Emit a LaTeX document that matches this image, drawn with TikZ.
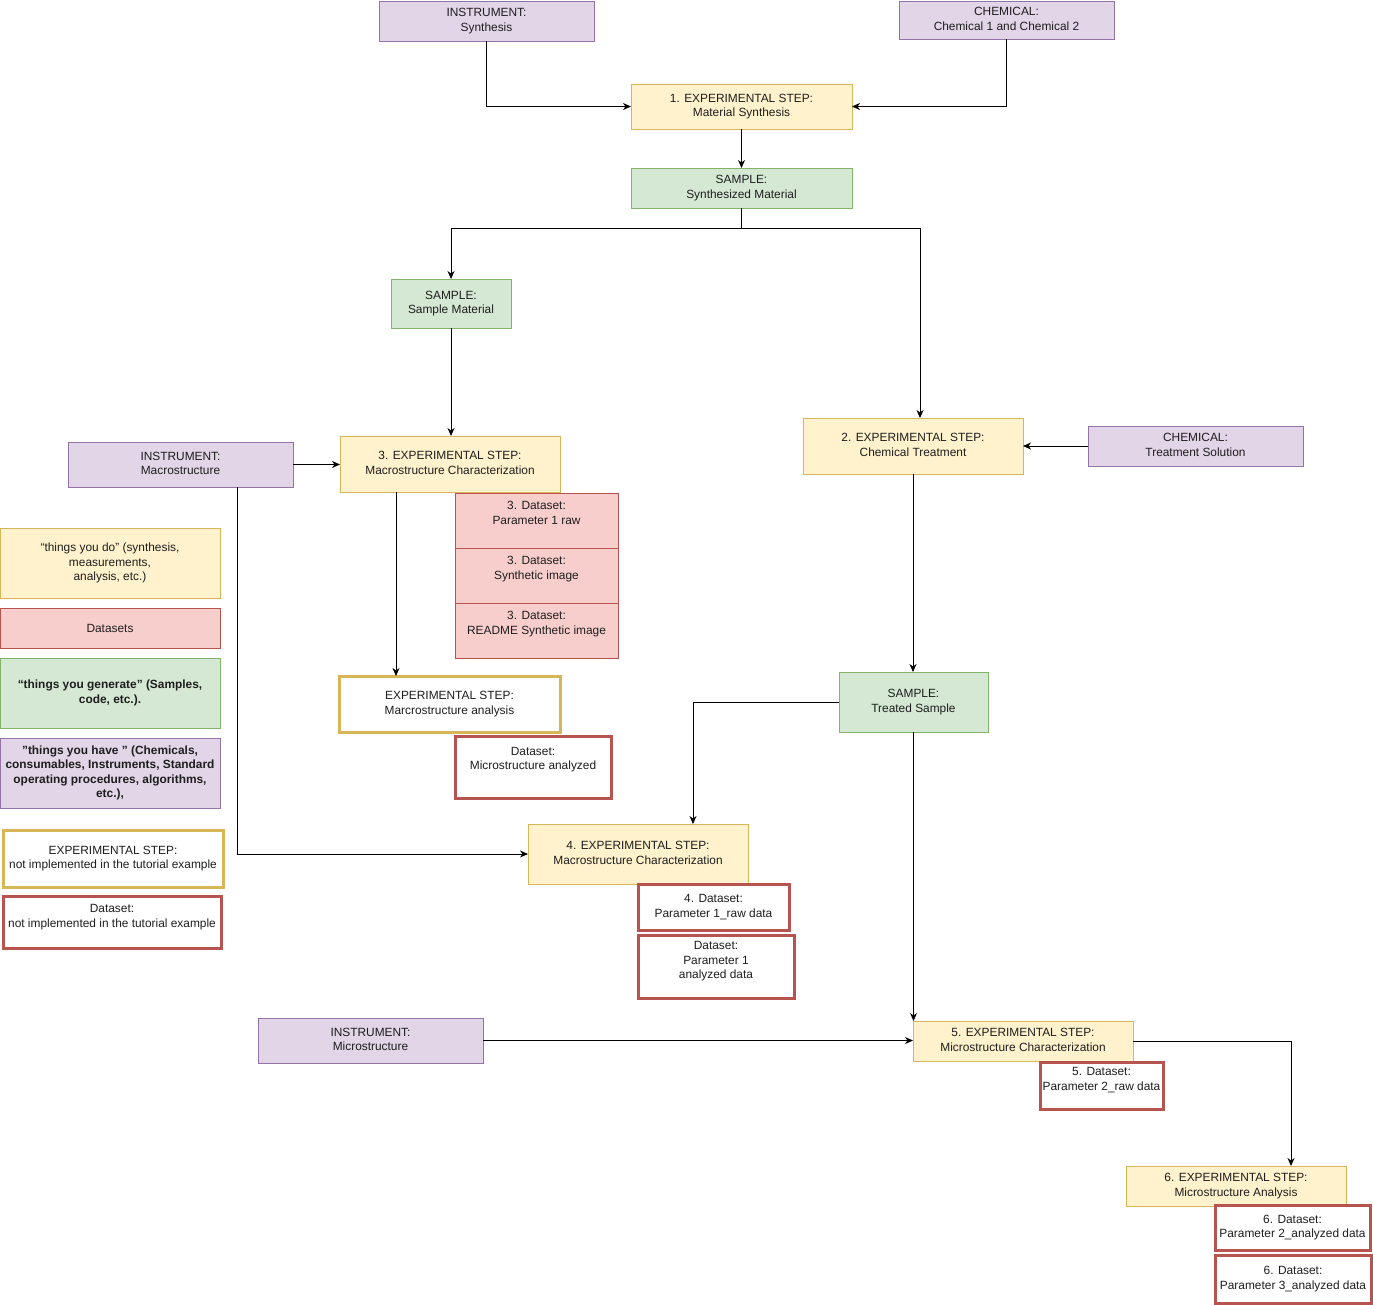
\documentclass[tikz,border=0pt]{standalone}
\usepackage{fontspec}
\setmainfont{Liberation Sans}
\usetikzlibrary{arrows.meta}
\definecolor{yfill}{HTML}{FFF2CC}
\definecolor{yline}{HTML}{D6B656}
\definecolor{gfill}{HTML}{D5E8D4}
\definecolor{gline}{HTML}{82B366}
\definecolor{pfill}{HTML}{E1D5E7}
\definecolor{pline}{HTML}{9673A6}
\definecolor{rfill}{HTML}{F8CECC}
\definecolor{rline}{HTML}{B85450}
\definecolor{txt}{HTML}{1E1E1E}
\newcommand{\dfont}{\fontsize{11.9}{14.6}\selectfont}
\begin{document}
\begin{tikzpicture}[x=1pt,y=-1pt,
  basebox/.style={rectangle, inner sep=0pt, outer sep=0pt, align=center, font=\dfont, text=txt, line width=1pt,
    execute at begin node={\rule{0pt}{10.7pt}}, execute at end node={\rule[-2.5pt]{0pt}{0pt}}},
  boxsize/.style 2 args={minimum width=#1pt, minimum height=#2pt},
  stepbox/.style={basebox, draw=yline, fill=yfill},
  samplebox/.style={basebox, draw=gline, fill=gfill},
  havebox/.style={basebox, draw=pline, fill=pfill},
  databox/.style={basebox, draw=rline, fill=rfill},
  openstep/.style={basebox, draw=yline, fill=white, line width=3pt},
  opendata/.style={basebox, draw=rline, fill=white, line width=3pt},
  toptext/.style={anchor=north, yshift=-#1pt, inner sep=0pt, draw=none, fill=none, align=center, font=\dfont, text=txt,
    execute at begin node={}, execute at end node={}},
  arr/.style={draw=black, line width=1pt, -{Stealth[length=8pt,width=7pt,inset=2.5pt]}}
]
\useasboundingbox (0,0) rectangle (1373,1304);

% top
\node[havebox, boxsize={215}{40}] (isyn) at (486.5,21) {INSTRUMENT:\\Synthesis};
\node[havebox, boxsize={215}{38}] (chem12) at (1006.5,20) {CHEMICAL:\\Chemical 1 and Chemical 2};
\node[stepbox, boxsize={221}{45}] (step1) at (741.5,106.5) {1. EXPERIMENTAL STEP:\\Material Synthesis};
\node[samplebox, boxsize={221}{40}] (ssyn) at (741.5,188) {SAMPLE:\\Synthesized Material};
\node[samplebox, boxsize={120}{49}] (smat) at (451,303.5) {SAMPLE:\\Sample Material};

% step 2
\node[stepbox, boxsize={220}{56}] (step2) at (913,446) {2. EXPERIMENTAL STEP:\\Chemical Treatment};
\node[havebox, boxsize={215}{40}] (chemT) at (1195.5,446) {CHEMICAL:\\Treatment Solution};
\node[samplebox, boxsize={149}{60}] (streat) at (913.5,702) {SAMPLE:\\Treated Sample};

% step 3
\node[havebox, boxsize={225}{45}] (imac) at (180.5,464.5) {INSTRUMENT:\\Macrostructure};
\node[stepbox, boxsize={220}{56}] (step3) at (450,464) {3. EXPERIMENTAL STEP:\\Macrostructure Characterization};
\node[databox, boxsize={163}{55}, label={[toptext=8]north:{3. Dataset:\\Parameter 1 raw}}] (d3a) at (536.5,520.5) {};
\node[databox, boxsize={163}{55}, label={[toptext=8]north:{3. Dataset:\\Synthetic image}}] (d3b) at (536.5,575.5) {};
\node[databox, boxsize={163}{55}, label={[toptext=8]north:{3. Dataset:\\README Synthetic image}}] (d3c) at (536.5,630.5) {};
\node[openstep, boxsize={221}{56}] (anal) at (449.5,704) {EXPERIMENTAL STEP:\\Marcrostructure analysis};
\node[opendata, boxsize={156}{62}, label={[toptext=11]north:{Dataset:\\Microstructure analyzed}}] (danal) at (533,767) {};

% legend
\node[stepbox, boxsize={220}{70}] (leg1) at (110,563) {“things you do” (synthesis,\\measurements,\\analysis, etc.)};
\node[databox, boxsize={220}{40}] (leg2) at (110,628) {Datasets};
\node[samplebox, boxsize={220}{70}, font=\dfont\bfseries] (leg3) at (110,693) {“things you generate” (Samples,\\code, etc.).};
\node[havebox, boxsize={220}{70}, font=\dfont\bfseries] (leg4) at (110,773) {”things you have ” (Chemicals,\\consumables, Instruments, Standard\\operating procedures, algorithms,\\etc.),};
\node[openstep, boxsize={220}{57}] (leg5) at (113,858.5) {EXPERIMENTAL STEP:\\not implemented in the tutorial example};
\node[opendata, boxsize={218}{52}, label={[toptext=8]north:{Dataset:\\not implemented in the tutorial example}}] (leg6) at (112,922) {};

% step 4
\node[stepbox, boxsize={220}{60}] (step4) at (638,854) {4. EXPERIMENTAL STEP:\\Macrostructure Characterization};
\node[opendata, boxsize={151}{46}] (d4a) at (713.5,907) {4. Dataset:\\Parameter 1\_raw data};
\node[opendata, boxsize={156}{63}, label={[toptext=6]north:{Dataset:\\Parameter 1\\analyzed data}}] (d4b) at (716,966.5) {};

% step 5 and 6
\node[havebox, boxsize={225}{45}] (imic) at (370.5,1040.5) {INSTRUMENT:\\Microstructure};
\node[stepbox, boxsize={220}{40}] (step5) at (1023,1041) {5. EXPERIMENTAL STEP:\\Microstructure Characterization};
\node[opendata, boxsize={123}{47}, label={[toptext=5]north:{5. Dataset:\\Parameter 2\_raw data}}] (d5) at (1101.5,1085.5) {};
\node[stepbox, boxsize={220}{40}] (step6) at (1236,1186) {6. EXPERIMENTAL STEP:\\Microstructure Analysis};
\node[opendata, boxsize={155}{45}] (d6a) at (1292.5,1227.5) {6. Dataset:\\Parameter 2\_analyzed data};
\node[opendata, boxsize={156}{48}] (d6b) at (1293,1279) {6. Dataset:\\Parameter 3\_analyzed data};

% connectors
\draw[arr] (isyn.south) |- (step1.west);
\draw[arr] (chem12.south) |- (step1.east);
\draw[arr] (step1.south) -- (ssyn.north);
\draw[arr] (ssyn.south) -- ++(0,20) -| (smat.north);
\draw[arr] (ssyn.south) -- ++(0,20) -| ([xshift=7pt]step2.north);
\draw[arr] (smat.south) -- (smat.south |- step3.north);
\draw[arr] (imac.east) -- (imac.east -| step3.west);
\draw[arr] ([xshift=56.5pt]imac.south) |- (step4.west);
\draw[arr] ([xshift=-54pt]step3.south) -- ([xshift=-54pt]step3.south |- anal.north);
\draw[arr] (chemT.west) -- (step2.east);
\draw[arr] (step2.south) -- (step2.south |- streat.north);
\draw[arr] (streat.west) -| ([xshift=55pt]step4.north);
\draw[arr] (streat.south) -- (streat.south |- step5.north);
\draw[arr] (imic.east) -- (imic.east -| step5.west);
\draw[arr] (step5.east) -| ([xshift=55pt]step6.north);
\end{tikzpicture}
\end{document}
